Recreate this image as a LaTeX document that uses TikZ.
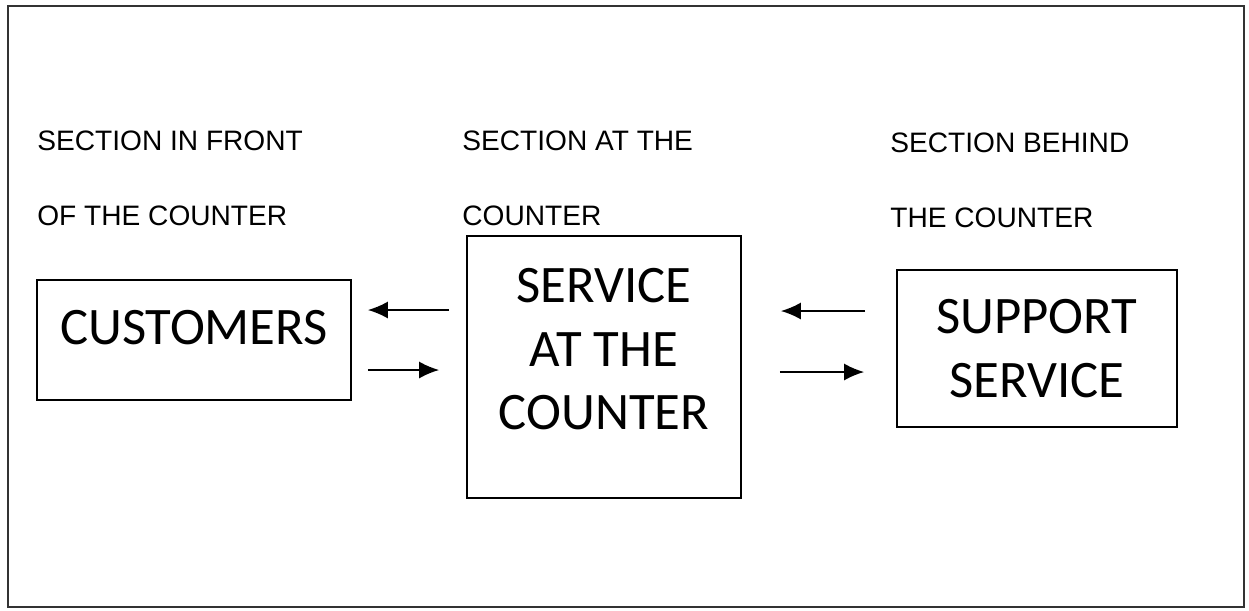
\documentclass[tikz,border=0pt]{standalone}
\usepackage{fontspec}
\setmainfont{Liberation Sans}
\newfontfamily\boxfont{Carlito}
\usetikzlibrary{arrows, arrows.meta}
\usetikzlibrary{positioning}

\tikzset{
	section/.style={anchor=base west, inner sep=0pt, font=\fontsize{16}{19}\selectfont},
	unit/.style={draw, line width=1pt, align=center, inner sep=0pt,
		font=\boxfont\fontsize{30}{36}\selectfont},
	flow/.style={-{Latex[length=4mm,width=3.4mm]}, line width=1pt}
}

\begin{document}
\begin{tikzpicture}[x=0.02cm, y=-0.02cm] % counter sections
	
	\useasboundingbox (0,0) rectangle (1249,610);
	
	%frame
	\draw[line width=1pt, black!80] (8,6) rectangle (1244,607);
	
	%section labels
	\node[section] (frontA) at (37,150) {SECTION IN FRONT};
	\node[section] (frontB) at (37,225) {OF THE COUNTER};
	\node[section] (atA) at (462,150) {SECTION AT THE};
	\node[section] (atB) at (462,225) {COUNTER};
	\node[section] (behindA) at (890,152) {SECTION BEHIND};
	\node[section] (behindB) at (890,227) {THE COUNTER};
	
	%boxes
	\node[unit, minimum width=6.28cm, minimum height=2.4cm, text depth=0.5cm] (cust) at (194,340) {CUSTOMERS};
	\node[unit, minimum width=5.48cm, minimum height=5.24cm, text depth=0.72cm] (srv) at (604,367) {SERVICE\\AT THE\\COUNTER};
	\node[unit, minimum width=5.6cm, minimum height=3.14cm] (supp) at (1037,348.5) {SUPPORT\\SERVICE};
	
	%arrows
	\draw[flow, shorten <=0.34cm, shorten >=0.32cm] (srv.west |- 0,310) -- (cust.east |- 0,310);
	\draw[flow, shorten <=0.32cm, shorten >=0.54cm] (cust.east |- 0,370) -- (srv.west |- 0,370);
	\draw[flow, shorten <=0.62cm, shorten >=0.78cm] (supp.west |- 0,311) -- (srv.east |- 0,311);
	\draw[flow, shorten <=0.76cm, shorten >=0.64cm] (srv.east |- 0,372) -- (supp.west |- 0,372);
	
\end{tikzpicture}
\end{document}
